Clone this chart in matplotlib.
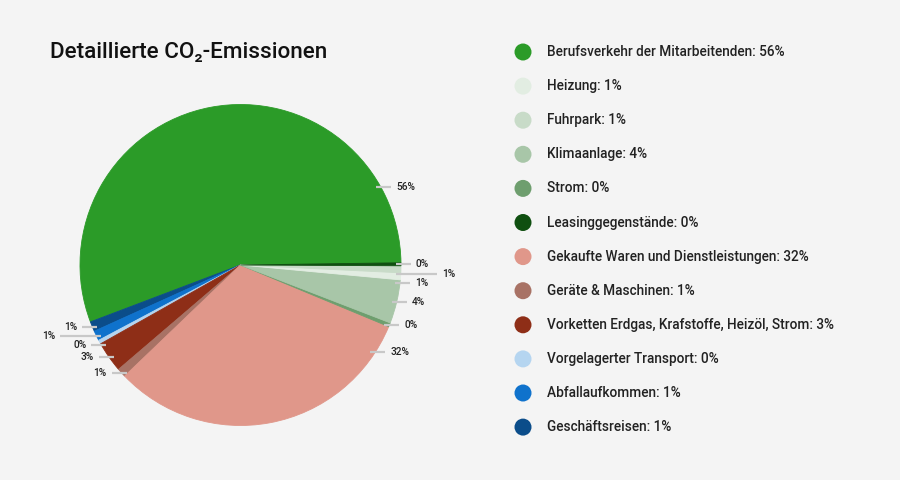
import numpy as np
import matplotlib.pyplot as plt

plt.rcParams['font.family'] = ['Roboto', 'DejaVu Sans']

# legend order
categories = [
    'Berufsverkehr der Mitarbeitenden',
    'Heizung',
    'Fuhrpark',
    'Klimaanlage',
    'Strom',
    'Leasinggegenstände',
    'Gekaufte Waren und Dienstleistungen',
    'Geräte & Maschinen',
    'Vorketten Erdgas, Krafstoffe, Heizöl, Strom',
    'Vorgelagerter Transport',
    'Abfallaufkommen',
    'Geschäftsreisen',
]
values = [55.6, 0.7, 0.7, 4.4, 0.4, 0.3, 31.6, 0.9, 3.1, 0.4, 1.0, 1.0]
colors = ['#2b9b28', '#e2ede2', '#c8dbc8', '#a8c6a8', '#6e9e6e', '#0f4f10',
          '#e0978a', '#a87265', '#8e2e17', '#b5d5f0', '#0f72cc', '#0b4d8a']

# order of the slices around the pie (counter clockwise)
pie_order = [0, 11, 10, 9, 8, 7, 6, 4, 3, 1, 2, 5]

W, H = 900, 480
bg = '#f4f4f4'
fig = plt.figure(figsize=(9, 4.8), dpi=100, facecolor=bg)
ax = fig.add_axes([0, 0, 1, 1])


def sy(y):
    # pixel row -> data y
    return H - y


cx, cy_px, r = 240.5, 265, 160.5
cy = sy(cy_px)

pv = [values[i] for i in pie_order]
pc = [colors[i] for i in pie_order]
wedges, _ = ax.pie(pv, colors=pc, startangle=0.8, counterclock=True,
                   center=(cx, cy), radius=r, wedgeprops=dict(linewidth=0.6))
for w in wedges:
    w.set_edgecolor(w.get_facecolor())

ax.set_xlim(0, W)
ax.set_ylim(0, H)
ax.set_aspect('equal')
ax.axis('off')

# slice labels
labels = []
for k, w in enumerate(wedges):
    t1, t2 = w.theta1, w.theta2
    ang = (t1 + t2) / 2
    if t2 - t1 > 90:
        for c in [29, -33, 150, 210]:
            cc = c
            while cc < t1:
                cc += 360
            if cc <= t2:
                ang = cc
                break
    a = np.radians(ang)
    side = 1 if np.cos(a) > 0 else -1
    ypx = cy_px - r * np.sin(a)
    labels.append([side, ypx, values[pie_order[k]]])

for side in (1, -1):
    group = sorted([l for l in labels if l[0] == side], key=lambda l: l[1])
    prev_y = None
    prev_ext = False
    for l in group:
        ext = False
        if prev_y is not None:
            if l[1] < prev_y + 9.3:
                l[1] = prev_y + 9.3
            if l[1] - prev_y < 11 and not prev_ext:
                ext = True
        prev_y = l[1]
        prev_ext = ext
        dy = l[1] - cy_px
        xe = cx + side * np.sqrt(max(r * r - dy * dy, 0))
        x0 = xe - side * 5
        x1 = xe + side * (36 if ext else 10)
        ax.plot([x0, x1], [sy(l[1]), sy(l[1])], color='#c8c8c8', lw=1.6,
                solid_capstyle='butt', zorder=3)
        ax.text(x1 + side * 5, sy(l[1]), f'{l[2]:.0f}%', fontsize=7.3,
                fontweight='medium', color='#222222',
                ha='left' if side > 0 else 'right', va='center', zorder=4)

# legend
for i, cat in enumerate(categories):
    y = 52 + i * 34.1
    ax.add_patch(plt.Circle((523, sy(y)), 8.5, color=colors[i], lw=0))
    ax.text(547, sy(y), f'{cat}: {values[i]:.0f}%', fontsize=9.8,
            fontweight='medium', color='#222222', va='center', ha='left')

ax.text(50, sy(52), 'Detaillierte CO₂-Emissionen', fontsize=16.2,
        fontweight='medium', color='#111111', va='center', ha='left')

fig.savefig('out.png', dpi=100, facecolor=bg)
